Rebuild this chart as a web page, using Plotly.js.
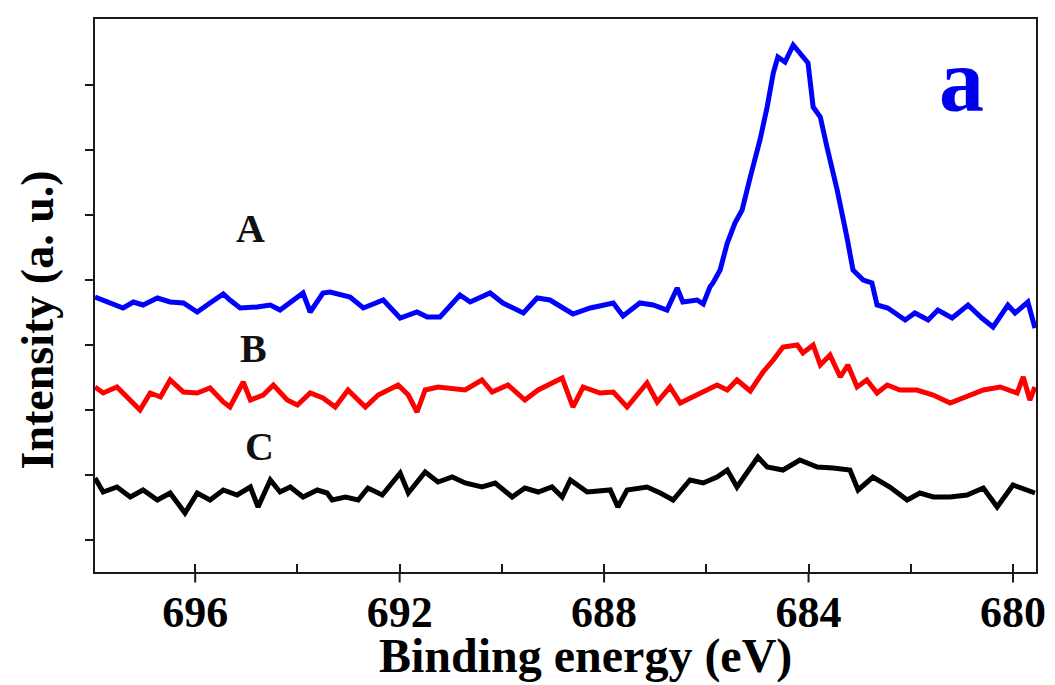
<!DOCTYPE html>
<html>
<head>
<meta charset="utf-8">
<script src="https://cdn.plot.ly/plotly-3.0.1.min.js"></script>
<style>html,body{margin:0;padding:0;background:#fff}#chart{width:1055px;height:685px}</style>
</head>
<body>
<div id="chart"></div>
<script>
// Binding energy (eV) and intensity (a.u.)
const energyA = [697.96,697.66,697.41,697.21,697.02,696.74,696.49,696.23,695.96,695.71,
  695.45,695.32,695.12,694.79,694.53,694.34,694.14,693.89,693.75,693.50,
  693.36,692.97,692.71,692.32,691.99,691.66,691.46,691.21,690.82,690.62,
  690.23,689.98,689.58,689.31,689.06,688.61,688.27,687.82,687.63,687.30,
  687.04,686.77,686.57,686.46,686.18,686.06,685.93,685.87,685.73,685.59,
  685.44,685.30,685.14,684.95,684.81,684.69,684.60,684.46,684.30,684.17,
  684.01,683.91,683.77,683.64,683.44,683.25,683.13,682.93,682.76,682.66,
  682.45,682.11,681.92,681.66,681.47,681.19,680.88,680.61,680.39,680.10,
  679.96,679.71,679.57];
const intensityA = [275,269,264,270,267,274,270,269,260,269,
  278,272,264,265,267,262,270,279,260,279,
  280,275,264,272,254,260,255,255,277,270,
  279,269,259,274,272,258,264,269,256,269,
  267,262,284,270,272,268,285,289,302,329,
  349,362,395,432,465,499,515,510,527,519,
  509,465,455,425,382,335,302,292,289,267,
  264,252,259,252,262,254,267,254,245,267,
  259,270,244];

const energyB = [697.96,697.80,697.53,697.33,697.08,696.88,696.68,696.49,696.23,695.96,
  695.71,695.45,695.32,695.06,694.92,694.67,694.47,694.20,694.00,693.75,
  693.50,693.26,693.01,692.67,692.42,692.03,691.83,691.66,691.50,691.25,
  690.97,690.72,690.39,690.19,689.88,689.55,689.29,689.02,688.82,688.61,
  688.41,688.08,687.82,687.55,687.16,686.96,686.71,686.51,686.12,685.79,
  685.59,685.40,685.14,684.89,684.69,684.50,684.22,684.11,683.91,683.77,
  683.58,683.38,683.23,683.05,682.86,682.66,682.46,682.21,681.88,681.56,
  681.23,680.90,680.58,680.25,679.92,679.80,679.67,679.57];
const intensityB = [185,179,185,175,162,179,175,192,180,179,
  184,170,165,190,172,177,187,172,167,179,
  174,165,182,165,177,187,177,160,182,185,
  184,182,192,180,187,172,182,189,194,165,
  185,179,180,165,189,170,185,169,179,187,
  182,192,181,200,212,225,227,219,227,207,
  217,195,207,185,192,179,187,182,182,177,
  169,175,182,185,179,195,172,185];

const energyC = [697.96,697.80,697.53,697.27,697.02,696.74,696.49,696.20,695.96,695.71,
  695.45,695.18,694.92,694.77,694.53,694.34,694.14,693.89,693.61,693.42,
  693.32,693.06,692.81,692.62,692.34,692.15,691.99,691.83,691.50,691.25,
  690.97,690.72,690.39,690.13,689.80,689.55,689.29,689.02,688.82,688.66,
  688.33,687.88,687.73,687.55,687.16,686.90,686.65,686.32,686.06,685.79,
  685.59,685.40,685.20,684.99,684.81,684.50,684.17,683.83,683.52,683.19,
  683.03,682.74,682.41,682.07,681.82,681.56,681.23,680.90,680.58,680.31,
  680.00,679.57];
const intensityC = [94,80,85,75,82,72,79,59,79,72,
  82,77,85,65,92,80,85,75,82,79,
  72,75,72,84,77,89,99,79,100,90,
  95,89,85,89,75,84,80,85,75,92,
  80,82,65,82,85,79,72,92,89,95,
  102,85,99,115,105,102,112,105,104,102,
  82,95,85,72,79,75,75,77,84,65,
  87,79];

const seriesNames = ["A", "B", "C"];
const xTickVals = [696, 692, 688, 684, 680];
const xTickText = ["696", "692", "688", "684", "680"];
const yTickVals = [32, 97, 162, 227, 292, 357, 422, 487];
const panelLabel = "a";
const xTitle = "Binding energy (eV)";
const yTitle = "Intensity (a. u.)";

const serif = "Liberation Serif, Times New Roman, serif";
const axisColor = "#1a1a1a";

const traces = [
  {x: energyA, y: intensityA, name: seriesNames[0], mode: "lines", line: {color: "#0000ff", width: 5}},
  {x: energyB, y: intensityB, name: seriesNames[1], mode: "lines", line: {color: "#ff0000", width: 5}},
  {x: energyC, y: intensityC, name: seriesNames[2], mode: "lines", line: {color: "#000000", width: 5}}
];

// outward major x ticks (labels sit close to the axis as in the reference)
const majorTickShapes = xTickVals.map(v => ({
  type: "line", xref: "x", yref: "paper", x0: v, x1: v, y0: 0, y1: -0.019,
  line: {color: axisColor, width: 2}
}));

const labelFont = {family: serif, size: 40, color: "#111"};
const layout = {
  width: 1055, height: 685,
  margin: {l: 95, r: 19, t: 19, b: 113, pad: 0},
  paper_bgcolor: "#fff", plot_bgcolor: "#fff",
  showlegend: false,
  xaxis: {
    range: [697.96, 679.55],
    tickmode: "array", tickvals: xTickVals, ticktext: xTickText,
    ticks: "", ticklabelstandoff: 0,
    minor: {ticks: "inside", dtick: 2, tick0: 680, ticklen: 8, tickwidth: 2, tickcolor: axisColor, showgrid: false},
    showline: true, mirror: true, linecolor: axisColor, linewidth: 2,
    showgrid: false, zeroline: false,
    tickfont: {family: serif, size: 44, weight: "bold", color: "#000"}
  },
  yaxis: {
    range: [0, 553],
    tickmode: "array", tickvals: yTickVals, ticktext: yTickVals.map(() => ""),
    ticks: "outside", ticklen: 8, tickwidth: 2, tickcolor: axisColor,
    showline: true, mirror: true, linecolor: axisColor, linewidth: 2,
    showgrid: false, zeroline: false
  },
  shapes: majorTickShapes,
  annotations: [
    {x: 694.92, y: 344, xref: "x", yref: "y", text: "<b>" + seriesNames[0] + "</b>", showarrow: false, font: labelFont},
    {x: 694.85, y: 224, xref: "x", yref: "y", text: "<b>" + seriesNames[1] + "</b>", showarrow: false, font: labelFont},
    {x: 694.75, y: 126, xref: "x", yref: "y", text: "<b>" + seriesNames[2] + "</b>", showarrow: false, font: labelFont},
    {x: 681.0, y: 492, xref: "x", yref: "y", text: "<b>" + panelLabel + "</b>", showarrow: false,
     font: {family: serif, size: 90, color: "#0000ee"}},
    {x: 0.521, y: -0.152, xref: "paper", yref: "paper", xanchor: "center", yanchor: "middle",
     text: "<b>" + xTitle + "</b>", showarrow: false, font: {family: serif, size: 48, color: "#000"}},
    {x: -0.061, y: 0.456, xref: "paper", yref: "paper", xanchor: "center", yanchor: "middle", textangle: -90,
     text: "<b>" + yTitle + "</b>", showarrow: false, font: {family: serif, size: 46, color: "#000"}}
  ]
};

Plotly.newPlot("chart", traces, layout, {displayModeBar: false, staticPlot: true});
</script>
</body>
</html>
